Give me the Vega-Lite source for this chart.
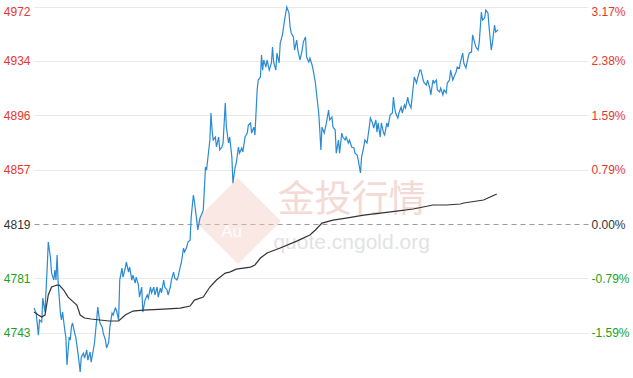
{
  "$schema": "https://vega.github.io/schema/vega-lite/v6.json",
  "width": 554,
  "height": 378,
  "autosize": {"type": "none"},
  "padding": {"left": 34, "top": 0, "right": 45, "bottom": 0},
  "background": "#ffffff",
  "config": {"view": {"stroke": null}, "font": "Liberation Sans"},
  "datasets": {
    "price": [
      {"t":0,"v":4759.9},{"t":2,"v":4756.4},{"t":4,"v":4740.9},{"t":5,"v":4751.5},{"t":7,"v":4750.1},{"t":8,"v":4766.9},{"t":10,"v":4757.1},{"t":12,"v":4788.7},{"t":13,"v":4806.3},{"t":15,"v":4795.1},
      {"t":16,"v":4784.5},{"t":18,"v":4779.6},{"t":19,"v":4786.6},{"t":20,"v":4779.6},{"t":21,"v":4797.2},{"t":22,"v":4777.5},{"t":24,"v":4756.4},{"t":25,"v":4751.5},{"t":26,"v":4757.1},{"t":28,"v":4744.4},
      {"t":29,"v":4739.5},{"t":30,"v":4719.8},{"t":32,"v":4739.5},{"t":33,"v":4737.4},{"t":34,"v":4746.5},{"t":35,"v":4749.4},{"t":37,"v":4742.3},{"t":38,"v":4739.5},{"t":40,"v":4728.2},{"t":41,"v":4721.9},
      {"t":42,"v":4714.9},{"t":43,"v":4725.4},{"t":45,"v":4728.2},{"t":46,"v":4724.7},{"t":48,"v":4730.4},{"t":49,"v":4723.3},{"t":51,"v":4729.0},{"t":52,"v":4721.9},{"t":54,"v":4730.4},{"t":55,"v":4735.3},
      {"t":57,"v":4751.5},{"t":58,"v":4760.6},{"t":60,"v":4749.4},{"t":62,"v":4746.5},{"t":63,"v":4742.3},{"t":65,"v":4737.4},{"t":66,"v":4731.8},{"t":68,"v":4736.0},{"t":69,"v":4746.5},{"t":71,"v":4756.4},
      {"t":72,"v":4755.0},{"t":74,"v":4759.9},{"t":75,"v":4758.5},{"t":77,"v":4751.5},{"t":78,"v":4779.6},{"t":80,"v":4788.0},{"t":81,"v":4781.7},{"t":83,"v":4788.0},{"t":84,"v":4792.3},{"t":86,"v":4785.2},
      {"t":87,"v":4788.7},{"t":89,"v":4779.6},{"t":90,"v":4783.1},{"t":92,"v":4777.5},{"t":93,"v":4781.7},{"t":95,"v":4776.1},{"t":96,"v":4767.6},{"t":98,"v":4774.7},{"t":99,"v":4757.1},{"t":101,"v":4765.5},
      {"t":103,"v":4769.1},{"t":104,"v":4766.9},{"t":106,"v":4774.7},{"t":107,"v":4770.5},{"t":109,"v":4774.7},{"t":110,"v":4769.1},{"t":112,"v":4774.7},{"t":113,"v":4767.6},{"t":115,"v":4774.0},{"t":116,"v":4770.5},
      {"t":118,"v":4779.6},{"t":119,"v":4774.7},{"t":121,"v":4772.6},{"t":122,"v":4769.1},{"t":124,"v":4774.7},{"t":125,"v":4779.6},{"t":127,"v":4785.2},{"t":128,"v":4781.0},{"t":130,"v":4779.6},{"t":131,"v":4781.7},
      {"t":133,"v":4788.7},{"t":134,"v":4791.6},{"t":136,"v":4802.1},{"t":137,"v":4799.3},{"t":139,"v":4802.8},{"t":140,"v":4806.3},{"t":142,"v":4807.7},{"t":143,"v":4823.9},{"t":145,"v":4839.4},{"t":146,"v":4834.5},
      {"t":148,"v":4821.8},{"t":149,"v":4814.8},{"t":151,"v":4823.2},{"t":153,"v":4826.7},{"t":154,"v":4828.8},{"t":156,"v":4859.1},{"t":157,"v":4857.0},{"t":159,"v":4871.1},{"t":160,"v":4878.1},{"t":161,"v":4897.1},
      {"t":162,"v":4885.1},{"t":163,"v":4878.1},{"t":165,"v":4880.2},{"t":166,"v":4873.2},{"t":168,"v":4880.2},{"t":169,"v":4871.1},{"t":171,"v":4873.2},{"t":172,"v":4876.0},{"t":174,"v":4904.1},{"t":175,"v":4887.2},
      {"t":177,"v":4876.0},{"t":178,"v":4880.2},{"t":180,"v":4866.1},{"t":181,"v":4847.8},{"t":183,"v":4859.1},{"t":184,"v":4861.9},{"t":186,"v":4873.2},{"t":187,"v":4868.9},{"t":189,"v":4872.5},{"t":190,"v":4869.7},
      {"t":192,"v":4880.2},{"t":194,"v":4883.0},{"t":195,"v":4888.6},{"t":197,"v":4890.1},{"t":198,"v":4883.0},{"t":200,"v":4887.2},{"t":201,"v":4881.6},{"t":203,"v":4913.3},{"t":204,"v":4920.3},{"t":206,"v":4922.4},
      {"t":207,"v":4937.9},{"t":208,"v":4927.3},{"t":209,"v":4934.4},{"t":211,"v":4929.4},{"t":212,"v":4934.4},{"t":214,"v":4927.3},{"t":216,"v":4932.3},{"t":217,"v":4943.5},{"t":218,"v":4933.0},{"t":220,"v":4927.3},
      {"t":221,"v":4939.3},{"t":223,"v":4932.3},{"t":224,"v":4946.3},{"t":226,"v":4952.0},{"t":227,"v":4957.6},{"t":229,"v":4967.4},{"t":230,"v":4971.7},{"t":232,"v":4967.4},{"t":233,"v":4957.6},{"t":234,"v":4953.4},
      {"t":236,"v":4950.6},{"t":237,"v":4941.4},{"t":239,"v":4948.4},{"t":240,"v":4941.4},{"t":242,"v":4934.4},{"t":244,"v":4941.4},{"t":245,"v":4947.0},{"t":247,"v":4950.6},{"t":248,"v":4936.5},{"t":250,"v":4933.0},
      {"t":251,"v":4935.8},{"t":253,"v":4930.9},{"t":254,"v":4927.3},{"t":256,"v":4918.2},{"t":257,"v":4911.2},{"t":259,"v":4897.1},{"t":260,"v":4885.1},{"t":261,"v":4871.1},{"t":262,"v":4887.2},{"t":264,"v":4883.0},
      {"t":266,"v":4890.1},{"t":268,"v":4899.2},{"t":269,"v":4892.2},{"t":271,"v":4894.3},{"t":272,"v":4887.2},{"t":274,"v":4885.1},{"t":275,"v":4868.9},{"t":277,"v":4878.1},{"t":278,"v":4868.9},{"t":280,"v":4883.0},
      {"t":281,"v":4880.2},{"t":283,"v":4878.1},{"t":284,"v":4880.2},{"t":286,"v":4876.0},{"t":287,"v":4878.1},{"t":289,"v":4873.2},{"t":291,"v":4872.5},{"t":292,"v":4868.9},{"t":294,"v":4867.5},{"t":295,"v":4864.0},
      {"t":297,"v":4854.9},{"t":298,"v":4866.1},{"t":300,"v":4873.2},{"t":301,"v":4878.1},{"t":303,"v":4876.0},{"t":305,"v":4887.2},{"t":306,"v":4893.6},{"t":308,"v":4890.1},{"t":309,"v":4886.5},{"t":311,"v":4892.2},
      {"t":312,"v":4883.7},{"t":313,"v":4890.1},{"t":315,"v":4880.2},{"t":316,"v":4890.1},{"t":318,"v":4883.0},{"t":319,"v":4881.6},{"t":321,"v":4890.1},{"t":322,"v":4887.2},{"t":324,"v":4895.7},{"t":326,"v":4897.1},
      {"t":327,"v":4908.3},{"t":328,"v":4901.3},{"t":329,"v":4897.1},{"t":331,"v":4893.6},{"t":332,"v":4897.1},{"t":334,"v":4901.3},{"t":335,"v":4897.1},{"t":337,"v":4902.7},{"t":338,"v":4900.6},{"t":340,"v":4908.3},
      {"t":341,"v":4904.1},{"t":343,"v":4900.6},{"t":345,"v":4915.4},{"t":346,"v":4922.4},{"t":348,"v":4918.2},{"t":349,"v":4921.7},{"t":351,"v":4927.3},{"t":352,"v":4927.3},{"t":354,"v":4920.3},{"t":355,"v":4918.2},
      {"t":357,"v":4916.8},{"t":358,"v":4920.3},{"t":360,"v":4914.7},{"t":361,"v":4909.8},{"t":363,"v":4920.3},{"t":364,"v":4918.2},{"t":366,"v":4920.3},{"t":367,"v":4913.3},{"t":369,"v":4911.9},{"t":370,"v":4914.7},
      {"t":372,"v":4909.8},{"t":373,"v":4913.3},{"t":375,"v":4911.2},{"t":376,"v":4918.2},{"t":378,"v":4920.3},{"t":379,"v":4927.3},{"t":381,"v":4920.3},{"t":382,"v":4922.4},{"t":384,"v":4925.9},{"t":385,"v":4929.4},
      {"t":387,"v":4928.7},{"t":388,"v":4933.0},{"t":390,"v":4939.3},{"t":391,"v":4932.3},{"t":393,"v":4928.7},{"t":395,"v":4936.5},{"t":396,"v":4939.3},{"t":398,"v":4940.0},{"t":399,"v":4952.0},{"t":401,"v":4946.3},
      {"t":402,"v":4943.5},{"t":404,"v":4941.4},{"t":405,"v":4946.3},{"t":407,"v":4968.1},{"t":408,"v":4962.5},{"t":410,"v":4963.9},{"t":411,"v":4969.5},{"t":413,"v":4967.4},{"t":414,"v":4957.6},{"t":416,"v":4941.4},
      {"t":417,"v":4946.3},{"t":419,"v":4959.0},{"t":420,"v":4954.1},{"t":422,"v":4955.5}
    ],
    "avg": [
      {"t":0,"v":4757.1},{"t":4,"v":4755.0},{"t":7,"v":4753.6},{"t":10,"v":4755.0},{"t":13,"v":4769.1},{"t":16,"v":4774.7},{"t":21,"v":4776.1},{"t":23,"v":4776.1},{"t":27,"v":4772.6},{"t":31,"v":4767.6},
      {"t":36,"v":4764.1},{"t":39,"v":4762.0},{"t":42,"v":4755.0},{"t":46,"v":4752.9},{"t":52,"v":4752.2},{"t":60,"v":4751.5},{"t":68,"v":4750.8},{"t":77,"v":4750.8},{"t":83,"v":4755.0},{"t":90,"v":4757.8},
      {"t":99,"v":4758.5},{"t":118,"v":4759.2},{"t":133,"v":4759.9},{"t":142,"v":4761.3},{"t":146,"v":4765.5},{"t":154,"v":4767.6},{"t":160,"v":4774.7},{"t":166,"v":4779.6},{"t":174,"v":4784.5},{"t":178,"v":4785.2},
      {"t":184,"v":4787.3},{"t":197,"v":4788.7},{"t":201,"v":4790.2},{"t":206,"v":4795.1},{"t":212,"v":4798.6},{"t":224,"v":4802.1},{"t":239,"v":4807.0},{"t":251,"v":4811.3},{"t":256,"v":4814.8},{"t":262,"v":4819.7},
      {"t":272,"v":4821.8},{"t":284,"v":4823.2},{"t":300,"v":4825.3},{"t":315,"v":4826.7},{"t":330,"v":4828.1},{"t":345,"v":4829.6},{"t":354,"v":4831.0},{"t":363,"v":4832.4},{"t":375,"v":4832.4},{"t":388,"v":4833.1},
      {"t":391,"v":4833.8},{"t":409,"v":4835.9},{"t":421,"v":4840.1}
    ],
    "mark": [
      {"label": "金投行情", "url": "quote.cngold.org", "logo": "Au"}
    ]
  },
  "layer": [
    {
      "data": {"name": "mark"},
      "mark": {"type": "point", "shape": "diamond", "filled": true, "size": 7400, "color": "#f3cbc4", "opacity": 0.45},
      "encoding": {
        "x": {"datum": 185.6, "type": "quantitative", "scale": {"domain": [0, 504], "nice": false, "zero": false}, "axis": null},
        "y": {"datum": 4821.1, "type": "quantitative", "axis": null}
      }
    },
    {
      "data": {"name": "mark"},
      "mark": {"type": "text", "fontSize": 17, "color": "#ffffff", "opacity": 0.9, "baseline": "middle", "align": "center"},
      "encoding": {
        "x": {"datum": 179.7, "type": "quantitative", "axis": null},
        "y": {"datum": 4813.7, "type": "quantitative", "axis": null},
        "text": {"field": "logo"}
      }
    },
    {
      "data": {"name": "mark"},
      "mark": {"type": "text", "fontSize": 37, "font": "Noto Sans CJK SC", "color": "#f1cdc7", "opacity": 0.75, "baseline": "middle", "align": "center"},
      "encoding": {
        "x": {"datum": 289, "type": "quantitative", "axis": null},
        "y": {"datum": 4835.2, "type": "quantitative", "axis": null},
        "text": {"field": "label"}
      }
    },
    {
      "data": {"name": "mark"},
      "mark": {"type": "text", "fontSize": 21, "color": "#dcdcdc", "opacity": 0.8, "baseline": "middle", "align": "center"},
      "encoding": {
        "x": {"datum": 289, "type": "quantitative", "axis": null},
        "y": {"datum": 4805.6, "type": "quantitative", "axis": null},
        "text": {"field": "url"}
      }
    },
    {
      "data": {"name": "price"},
      "mark": {"type": "line", "color": "#2a8ad4", "strokeWidth": 1.2, "interpolate": "linear"},
      "encoding": {
        "x": {
          "field": "t",
          "type": "quantitative",
          "scale": {"domain": [0, 504], "nice": false, "zero": false},
          "axis": {"values": [60, 120, 180, 240, 300, 360, 420], "labels": false, "ticks": false, "domain": false, "title": null, "grid": true, "gridColor": "#e9e9e9", "gridWidth": 1}
        },
        "y": {
          "field": "v",
          "type": "quantitative",
          "scale": {"domain": [4710.7, 4976.6], "nice": false, "zero": false},
          "axis": {
            "orient": "left",
            "title": null,
            "values": [4742.5, 4780.75, 4819, 4857.25, 4895.5, 4933.75, 4972],
            "labelExpr": "format(round(datum.value), 'd')",
            "labelFont": "Liberation Sans",
            "labelFontSize": 12,
            "labelPadding": 4,
            "labelColor": {"condition": [{"test": "datum.value > 4820", "value": "#e2382d"}, {"test": "datum.value < 4818", "value": "#1e9e1e"}], "value": "#333333"},
            "labelBaseline": {"condition": {"test": "datum.value > 4960", "value": "top"}, "value": "middle"},
            "ticks": false,
            "domain": false,
            "grid": true,
            "gridColor": {"condition": {"test": "datum.value == 4819", "value": "#9a9a9a"}, "value": "#e9e9e9"},
            "gridDash": {"condition": {"test": "datum.value == 4819", "value": [5, 4]}, "value": []},
            "gridWidth": 1
          }
        }
      }
    },
    {
      "data": {"name": "avg"},
      "mark": {"type": "line", "color": "#333333", "strokeWidth": 1.2},
      "encoding": {
        "x": {"field": "t", "type": "quantitative", "axis": null},
        "y": {
          "field": "v",
          "type": "quantitative",
          "axis": {
            "orient": "right",
            "title": null,
            "values": [4742.5, 4780.75, 4819, 4857.25, 4895.5, 4933.75, 4972],
            "labelExpr": "(datum.value < 4819 ? '-' : '') + format(abs(datum.value - 4819) / 4819 * 100, '.2f') + '%'",
            "labelFont": "Liberation Sans",
            "labelFontSize": 12,
            "labelPadding": 3,
            "labelColor": {"condition": [{"test": "datum.value > 4820", "value": "#e2382d"}, {"test": "datum.value < 4818", "value": "#1e9e1e"}], "value": "#333333"},
            "labelBaseline": {"condition": {"test": "datum.value > 4960", "value": "top"}, "value": "middle"},
            "ticks": false,
            "domain": false,
            "grid": false
          }
        }
      }
    }
  ],
  "resolve": {"scale": {"y": "shared"}, "axis": {"y": "independent"}}
}
